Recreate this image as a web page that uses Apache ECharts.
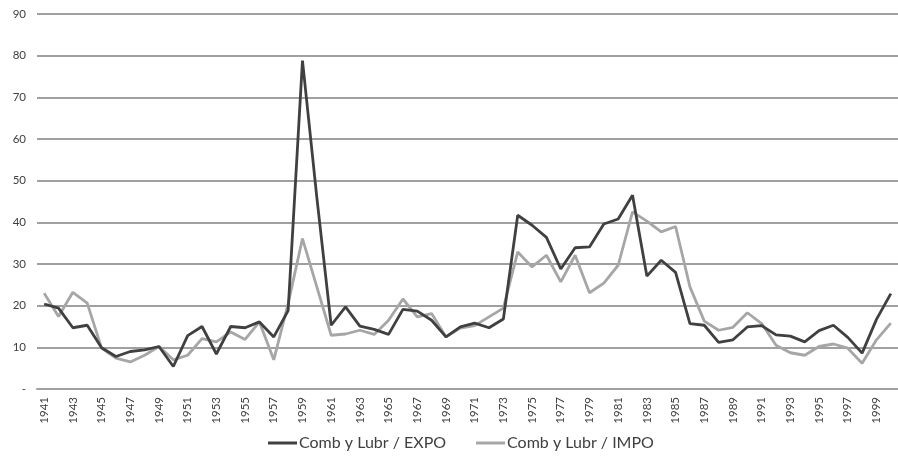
<!DOCTYPE html>
<html>
<head>
<meta charset="utf-8">
<script src="https://cdn.jsdelivr.net/npm/echarts@6/dist/echarts.min.js"></script>
<style>html,body{margin:0;padding:0;background:#fff}#c{width:898px;height:461px}</style>
</head>
<body>
<div id="c"></div>
<script>
const years = [];
for (let y = 1941; y <= 2000; y++) years.push(String(y));

const expo = [20.4,19.4,14.7,15.3,9.9,7.8,9.0,9.4,10.2,5.4,
              12.8,15.0,8.4,15.0,14.7,16.1,12.5,18.8,78.8,46,
              15.3,19.7,15.1,14.3,13.1,19.1,18.7,16.5,12.5,14.9,
              15.8,14.7,16.8,41.7,39.3,36.4,28.8,33.9,34.1,39.6,
              40.8,46.5,27.1,30.9,28.0,15.7,15.3,11.2,11.8,14.9,
              15.2,13.0,12.7,11.3,14.0,15.3,12.4,8.6,16.7,22.9];

const impo = [23.0,17.4,23.2,20.6,9.8,7.4,6.5,8.1,10.2,7.0,
              8.1,12.1,11.3,13.7,11.9,16.1,7.0,20.5,36.1,24.5,
              12.9,13.2,14.1,13.1,16.5,21.6,17.3,18.1,12.5,14.6,
              15.2,17.3,19.4,32.9,29.3,32.1,25.7,32.1,23.1,25.4,
              29.7,42.5,40.3,37.7,39.0,24.5,16.3,14.1,14.8,18.3,
              15.7,10.5,8.7,8.1,10.2,10.8,9.8,6.2,11.8,15.8];

const seriesNames = ['Comb y Lubr / EXPO', 'Comb y Lubr / IMPO'];

const chart = echarts.init(document.getElementById('c'), null, {renderer:'canvas'});
const font = 'Lato, "Open Sans", sans-serif';
chart.setOption({
  animation: false,
  textStyle: {fontFamily: font},
  grid: {left: 37, right: -5, top: 14, bottom: 72, containLabel: false},
  legend: {
    bottom: 5, left: 263,
    itemWidth: 29, itemHeight: 3, itemGap: 30,
    icon: 'rect',
    textStyle: {fontFamily: font, fontSize: 16, color: '#404040', padding: [0, 0, 0, -3]},
    data: seriesNames
  },
  xAxis: {
    type: 'category', data: years, boundaryGap: true,
    axisLine: {show: true, lineStyle: {color: '#a0a0a0', width: 2}},
    axisTick: {show: false},
    axisLabel: {interval: 1, rotate: 90, fontSize: 11.5, color: '#404040', margin: 8, fontFamily: font},
    splitLine: {show: false}
  },
  yAxis: {
    type: 'value', min: 0, max: 90, interval: 10,
    axisLine: {show: false}, axisTick: {show: false},
    axisLabel: {fontSize: 11.5, color: '#404040', margin: 11, fontFamily: font,
      formatter: v => (v === 0 ? '-' : String(v))},
    splitLine: {lineStyle: {color: '#a0a0a0', width: 2}}
  },
  series: [
    {name: seriesNames[0], type: 'line', data: expo, symbol: 'none',
     lineStyle: {color: '#404040', width: 2.8}, itemStyle: {color: '#404040'}, z: 3},
    {name: seriesNames[1], type: 'line', data: impo, symbol: 'none',
     lineStyle: {color: '#a6a6a6', width: 2.8}, itemStyle: {color: '#a6a6a6'}, z: 2}
  ]
});
</script>
</body>
</html>
